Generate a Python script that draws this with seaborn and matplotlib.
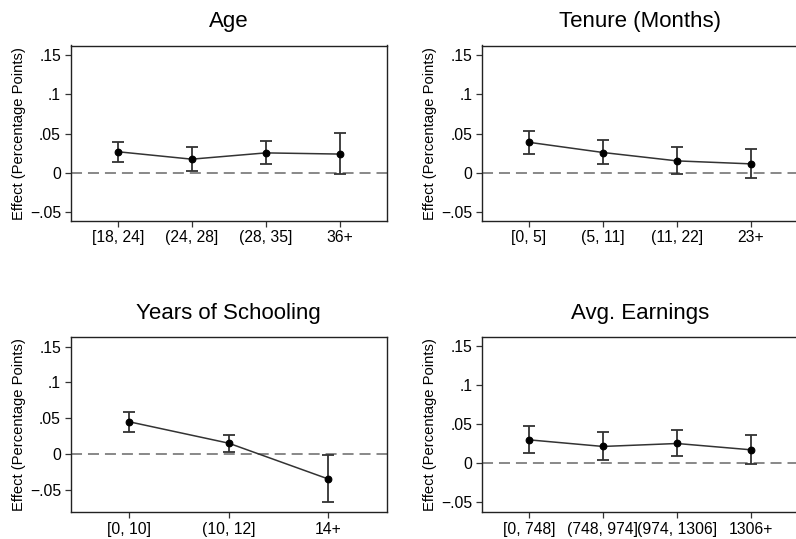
import matplotlib
matplotlib.use("Agg")
import matplotlib.pyplot as plt
import seaborn as sns
import pandas as pd
import numpy as np

# ---- data ----
age_cats = ["[18, 24]", "(24, 28]", "(28, 35]", "36+"]
age_est = [0.027, 0.0175, 0.0255, 0.024]
age_lo = [0.0137, 0.003, 0.0107, -0.0017]
age_hi = [0.040, 0.033, 0.041, 0.0506]

ten_cats = ["[0, 5]", "(5, 11]", "(11, 22]", "23+"]
ten_est = [0.039, 0.026, 0.0153, 0.0115]
ten_lo = [0.0243, 0.0107, -0.002, -0.007]
ten_hi = [0.054, 0.0425, 0.033, 0.0306]

sch_cats = ["[0, 10]", "(10, 12]", "14+"]
sch_est = [0.0449, 0.015, -0.035]
sch_lo = [0.0304, 0.0033, -0.0678]
sch_hi = [0.0589, 0.0262, -0.0019]

ear_cats = ["[0, 748]", "(748, 974]", "(974, 1306]", "1306+"]
ear_est = [0.0299, 0.0214, 0.0252, 0.0171]
ear_lo = [0.0132, 0.0034, 0.009, -0.0013]
ear_hi = [0.0479, 0.0397, 0.0419, 0.0359]

yticks = [-0.05, 0, 0.05, 0.1, 0.15]
ytick_labels = ["\u2212.05", "0", ".05", ".1", ".15"]

sns.set_theme(style="white")
plt.rcParams["font.family"] = ["Liberation Sans", "DejaVu Sans"]
plt.rcParams["text.color"] = "black"
plt.rcParams["axes.labelcolor"] = "black"
plt.rcParams["xtick.color"] = "black"
plt.rcParams["ytick.color"] = "black"

W, H = 796, 539
fig = plt.figure(figsize=(W / 100, H / 100), dpi=100)

panels = [
    ("Age", age_cats, age_est, age_lo, age_hi, (70.7, 45.5, 386.7, 220.7), (-0.061, 0.1625)),
    ("Tenure (Months)", ten_cats, ten_est, ten_lo, ten_hi, (482.0, 45.5, 798.0, 220.7), (-0.061, 0.1625)),
    ("Years of Schooling", sch_cats, sch_est, sch_lo, sch_hi, (70.7, 336.7, 386.7, 512.0), (-0.0813, 0.164)),
    ("Avg. Earnings", ear_cats, ear_est, ear_lo, ear_hi, (482.0, 336.7, 798.0, 512.0), (-0.0628, 0.1624)),
]

for title, cats, est, lo, hi, (x0, y0, x1, y1), ylim in panels:
    ax = fig.add_axes([x0 / W, 1 - y1 / H, (x1 - x0) / W, (y1 - y0) / H])
    df = pd.DataFrame({"cat": cats, "est": est})
    n = len(cats)
    pos = np.arange(n)
    ax.axhline(0, color="#7f7f7f", lw=1.3, dashes=(6.1, 3.3), zorder=1)
    est_a = np.array(est)
    yerr = np.vstack([est_a - np.array(lo), np.array(hi) - est_a])
    ax.errorbar(pos, est_a, yerr=yerr, fmt="none", ecolor="#333333",
                elinewidth=1.3, capsize=4, capthick=1.3, zorder=2)
    sns.pointplot(data=df, x="cat", y="est", errorbar=None, color="#333333",
                  markers="o", markersize=4.8, linewidth=1.1, ax=ax, zorder=3)
    for line in ax.lines:
        if line.get_marker() == "o":
            line.set_markerfacecolor("black")
            line.set_markeredgecolor("black")
    half = 0.635 if n == 4 else 0.59
    ax.set_xlim(-half, n - 1 + half)
    ax.set_ylim(*ylim)
    ax.set_yticks(yticks)
    ax.set_yticklabels(ytick_labels, fontsize=11.3)
    ax.set_xticks(pos)
    ax.set_xticklabels(cats, fontsize=11.3)
    ax.set_xlabel("")
    ax.set_ylabel("Effect (Percentage Points)", fontsize=10.6, labelpad=3)
    ax.set_title(title, fontsize=16, pad=13, color="black")
    ax.tick_params(axis="both", which="major", direction="out", length=4.5,
                   width=0.9, color="#333333", bottom=True, left=True, pad=2.5,
                   labelcolor="black")
    for s in ax.spines.values():
        s.set_visible(True)
        s.set_color("#222222")
        s.set_linewidth(1.0)

fig.savefig("out.png", dpi=100, facecolor="white")
